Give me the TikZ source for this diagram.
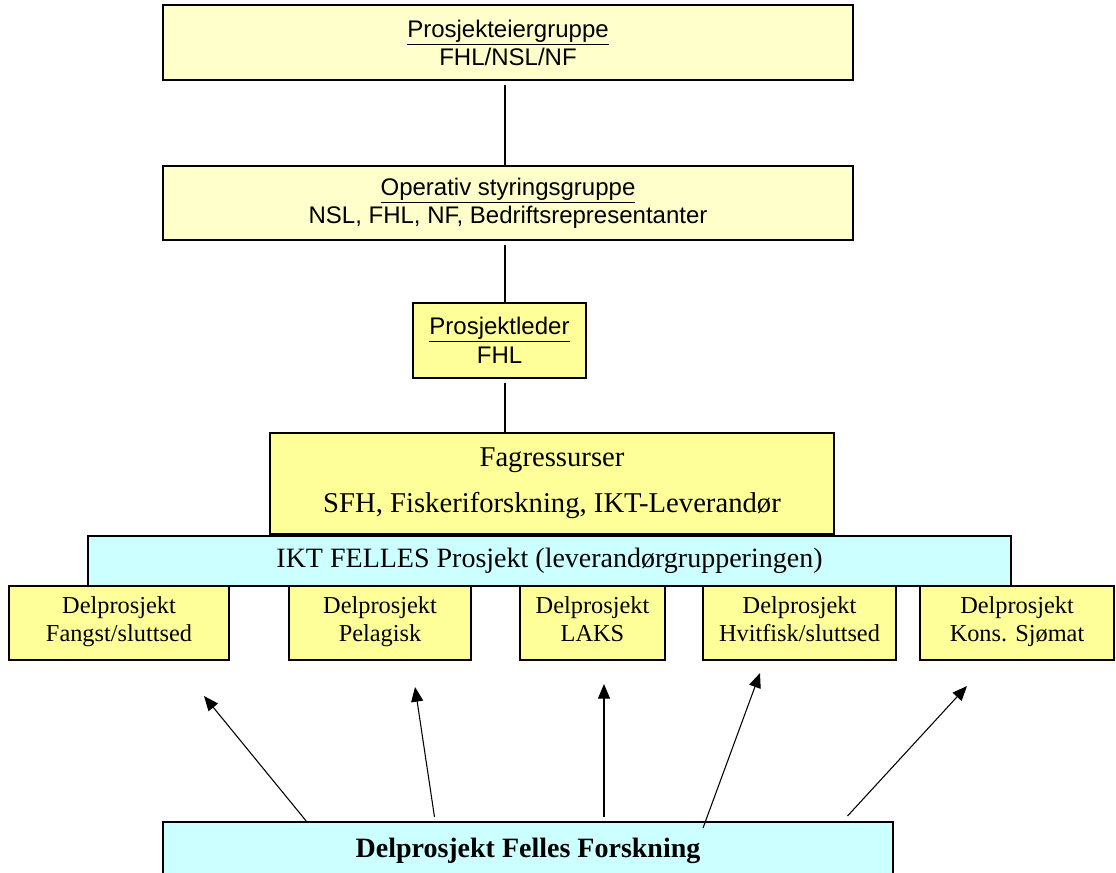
\documentclass[tikz,border=0pt]{standalone}
\usepackage{fontspec}
\setmainfont{Liberation Serif}
\newfontfamily\arialfont{Liberation Sans}
\usetikzlibrary{arrows.meta}

\definecolor{paleyellow}{HTML}{FFFFCC}
\definecolor{midyellow}{HTML}{FFFF99}
\definecolor{palecyan}{HTML}{CCFFFF}

\tikzset{
    orgbox/.style={draw, line width=0.9pt, inner sep=0pt, align=center},
    topbox/.style={orgbox, fill=paleyellow, font=\arialfont\fontsize{18}{21}\selectfont},
    leadbox/.style={orgbox, fill=midyellow, font=\arialfont\fontsize{18}{22}\selectfont},
    fagbox/.style={orgbox, fill=midyellow, font=\fontsize{21.5}{34.5}\selectfont},
    iktbox/.style={orgbox, fill=palecyan, font=\fontsize{21}{24}\selectfont},
    delbox/.style={orgbox, fill=midyellow, minimum height=55.5pt, font=\fontsize{18.25}{21}\selectfont, execute at end node=\strut},
    spineline/.style={line width=1pt, shorten <=3.5pt},
    arr/.style={-{Triangle[length=11pt, width=9pt]}, line width=0.8pt},
}

\begin{document}
\begin{tikzpicture}[x=0.75pt, y=-0.75pt]
    \useasboundingbox (0, 0) rectangle (1116, 872);

    \node[topbox, minimum width=517.5pt, minimum height=56.25pt] (eier) at (508, 42.5) {\underline{Prosjekteiergruppe}\\FHL/NSL/NF};
    \node[topbox, minimum width=517.5pt, minimum height=55.5pt] (styring) at (508, 203) {\underline{Operativ styringsgruppe}\\NSL, FHL, NF, Bedriftsrepresentanter};
    \node[leadbox, minimum width=129.75pt, minimum height=56.25pt] (leder) at (499.5, 340.5) {\underline{Prosjektleder}\\FHL};
    \node[fagbox, minimum width=423pt, minimum height=75.75pt] (fag) at (552, 483.5) {Fagressurser\\SFH, Fiskeriforskning, IKT-Leverandør};
    \node[iktbox, minimum width=692.25pt, minimum height=37.5pt] (ikt) at (549.5, 561) {IKT FELLES Prosjekt (leverandørgrupperingen)};

    \node[delbox, minimum width=165pt] (fangst) at (119, 623) {Delprosjekt\\Fangst/sluttsed};
    \node[delbox, minimum width=136.5pt] (pelagisk) at (380, 623) {Delprosjekt\\Pelagisk};
    \node[delbox, minimum width=108.75pt] (laks) at (592.5, 623) {Delprosjekt\\LAKS};
    \node[delbox, minimum width=144.75pt] (hvitfisk) at (799.5, 623) {Delprosjekt\\Hvitfisk/sluttsed};
    \node[delbox, minimum width=145.5pt] (sjomat) at (1017, 623) {Delprosjekt\\Kons. Sjømat};

    \node[orgbox, fill=palecyan, minimum width=547.5pt, minimum height=43.5pt, font=\bfseries\fontsize{21}{24}\selectfont] (forskning) at (528, 851) {Delprosjekt Felles Forskning};

    % vertical line through the upper boxes
    \coordinate (spine) at (505, 0);
    \draw[spineline] (eier.south -| spine) -- (styring.north -| spine);
    \draw[spineline] (styring.south -| spine) -- (leder.north -| spine);
    \draw[spineline] (leder.south -| spine) -- (fag.north -| spine);

    % arrows from felles forskning
    \coordinate (t1) at (307, 822);
    \coordinate (t2) at (434.5, 817);
    \coordinate (t3) at (604, 817);
    \coordinate (t4) at (703, 828);
    \coordinate (t5) at (847.5, 816);
    \coordinate (h1) at (204, 696);
    \coordinate (h2) at (415, 687);
    \coordinate (h3) at (604, 684);
    \coordinate (h4) at (760, 673);
    \coordinate (h5) at (967, 686);
    \foreach \i in {1,...,5}
        \draw[arr] (t\i) -- (h\i);
\end{tikzpicture}
\end{document}
